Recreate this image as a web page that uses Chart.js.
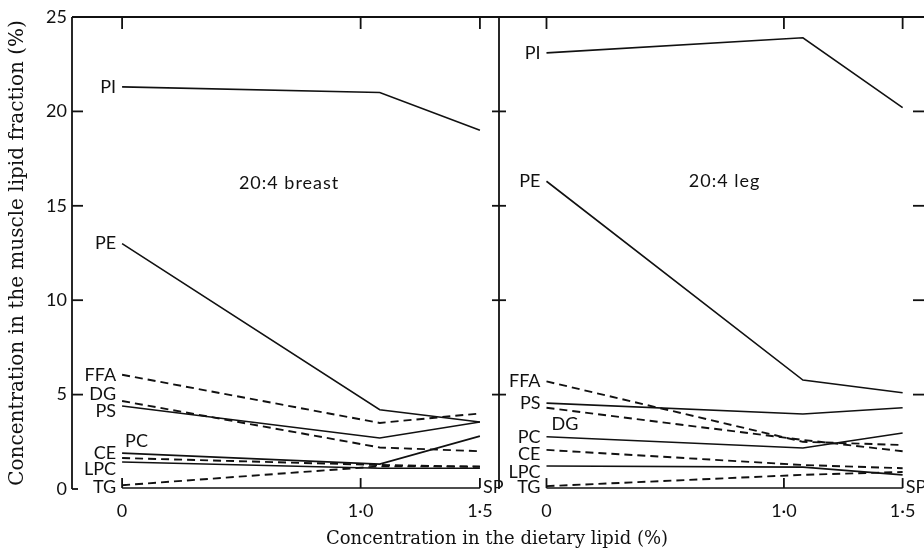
<!DOCTYPE html>
<html>
<head>
<meta charset="utf-8">
<script src="https://cdn.jsdelivr.net/npm/chart.js@4.4.1/dist/chart.umd.min.js"></script>
<style>
  body { margin: 0; background: #fff; width: 924px; height: 552px; overflow: hidden; position: relative; }
  canvas { position: absolute; left: 0; top: 0; }
  #xtitle { position: absolute; left: 0; width: 994px; top: 527px; text-align: center;
            font: 18px "DejaVu Serif", serif; color: #111; }
</style>
</head>
<body>
<canvas id="breastChart" width="924" height="552"></canvas>
<canvas id="legChart" width="924" height="552"></canvas>
<div id="xtitle">Concentration in the dietary lipid (%)</div>
<script>
// dietary lipid levels (%) where the samples were taken
const xDose = [0, 1.08, 1.5];
const xTickValues = [0, 1, 1.5];
const xTickLabels = ['0', '1·0', '1·5'];
const yTickValues = [0, 5, 10, 15, 20, 25];

const lipidNames = ['PI', 'PE', 'FFA', 'DG', 'PS', 'PC', 'CE', 'LPC', 'TG', 'SP'];
const dashedNames = ['FFA', 'DG', 'CE', 'TG'];

// 20:4 breast
const breastPI = [21.3, 21.0, 19.0];
const breastPE = [13.0, 4.2, 3.55];
const breastFFA = [6.05, 3.5, 4.0];
const breastDG = [4.66, 2.2, 2.0];
const breastPS = [4.4, 2.7, 3.55];
const breastPC = [1.9, 1.32, 2.8];
const breastCE = [1.64, 1.27, 1.17];
const breastLPC = [1.43, 1.1, 1.1];
const breastTG = [0.2, 1.2, 1.2];
const breastSP = [0.05, 0.05, 0.05];

// 20:4 leg
const legPI = [23.1, 23.9, 20.2];
const legPE = [16.3, 5.77, 5.1];
const legFFA = [5.7, 2.5, 2.33];
const legDG = [4.3, 2.6, 2.0];
const legPS = [4.55, 3.97, 4.3];
const legPC = [2.77, 2.17, 2.97];
const legCE = [2.07, 1.27, 1.1];
const legLPC = [1.22, 1.16, 0.75];
const legTG = [0.15, 0.75, 0.9];
const legSP = [0.05, 0.05, 0.05];

const breastValues = { PI: breastPI, PE: breastPE, FFA: breastFFA, DG: breastDG, PS: breastPS,
  PC: breastPC, CE: breastCE, LPC: breastLPC, TG: breastTG, SP: breastSP };
const legValues = { PI: legPI, PE: legPE, FFA: legFFA, DG: legDG, PS: legPS,
  PC: legPC, CE: legCE, LPC: legLPC, TG: legTG, SP: legSP };

// where each name sits next to its line (pixel nudges only)
const breastLabelPos = { PC: { dx: 3, dy: -12, align: 'left' }, DG: { dy: -7 }, PS: { dy: 5 },
  CE: { dy: -5 }, LPC: { dy: 7 }, TG: { dy: 2 }, SP: { end: true, dy: -1 } };
const legLabelPos = { DG: { dx: 5, dy: 16, align: 'left' }, CE: { dy: 4 }, LPC: { dy: 6 },
  TG: { dy: 1 }, SP: { end: true, dy: -1 } };

const ink = '#111';
const sansFamily = 'Lato, "DejaVu Sans", sans-serif';
const labelFont = '18px ' + sansFamily;

function buildDatasets(values) {
  return lipidNames.map(name => ({
    label: name,
    data: xDose.map((x, i) => ({ x: x, y: values[name][i] })),
    borderColor: ink,
    borderWidth: dashedNames.includes(name) ? 1.9 : 1.6,
    borderDash: dashedNames.includes(name) ? [8, 5] : [],
    pointRadius: 0,
    tension: 0,
    fill: false
  }));
}

function strokeLine(ctx, x1, y1, x2, y2) {
  ctx.beginPath();
  ctx.moveTo(x1, y1);
  ctx.lineTo(x2, y2);
  ctx.stroke();
}

// axes frame, inward ticks, line names and panel caption
const decorPlugin = {
  id: 'decor',
  afterDraw(chart, args, opts) {
    const ctx = chart.ctx;
    const { left, right, top, bottom } = chart.chartArea;
    const xs = chart.scales.x, ys = chart.scales.y;
    ctx.save();
    ctx.strokeStyle = ink;
    ctx.lineWidth = 1.8;
    ctx.setLineDash([]);

    strokeLine(ctx, left, top, left, bottom);
    strokeLine(ctx, left, top, right, top);

    // left panel: inward ticks; right panel: shared divider ticks + right edge ticks
    yTickValues.forEach(v => {
      if (v === 25) return;
      const py = ys.getPixelForValue(v);
      if (opts.side === 'left') {
        strokeLine(ctx, left, py, left + (v === 0 ? 6 : 11), py);
      } else if (v > 0) {
        strokeLine(ctx, left - 7, py, left + 7, py);
        strokeLine(ctx, right - 11, py, right, py);
      }
    });

    xTickValues.forEach(v => {
      const px = xs.getPixelForValue(v);
      strokeLine(ctx, px, top, px, top + 12);
      strokeLine(ctx, px, ys.getPixelForValue(0.05), px, ys.getPixelForValue(0.05) - 10);
    });

    // names of the lipid classes
    ctx.fillStyle = ink;
    ctx.font = labelFont;
    ctx.textBaseline = 'middle';
    chart.data.datasets.forEach((ds, i) => {
      const meta = chart.getDatasetMeta(i);
      const pos = opts.labels[ds.label] || {};
      const pt = pos.end ? meta.data[meta.data.length - 1] : meta.data[0];
      let x, align;
      if (pos.end) { x = pt.x + 3; align = 'left'; }
      else if (pos.align === 'left') { x = pt.x + (pos.dx || 0); align = 'left'; }
      else { x = pt.x - 6; align = 'right'; }
      ctx.textAlign = align;
      ctx.fillText(ds.label, x, pt.y + (pos.dy || 0));
    });

    ctx.textAlign = 'center';
    ctx.letterSpacing = '1px';
    ctx.fillText(opts.caption, xs.getPixelForValue(opts.captionAt[0]), ys.getPixelForValue(opts.captionAt[1]));
    ctx.restore();
  }
};

function makeOptions(side, xMin, xMax, padding, caption, captionAt, labels) {
  return {
    responsive: false,
    animation: false,
    events: [],
    layout: { padding: padding },
    plugins: {
      legend: { display: false },
      tooltip: { enabled: false },
      decor: { side: side, caption: caption, captionAt: captionAt, labels: labels }
    },
    scales: {
      x: {
        type: 'linear',
        min: xMin,
        max: xMax,
        border: { display: false },
        grid: { display: false },
        afterBuildTicks: scale => { scale.ticks = xTickValues.map(v => ({ value: v })); },
        afterFit: scale => { scale.height = 63; },
        ticks: {
          color: ink,
          padding: 3,
          font: { family: sansFamily, size: 18 },
          callback: v => xTickLabels[xTickValues.indexOf(v)]
        }
      },
      y: {
        display: side === 'left',
        min: 0,
        max: 25,
        border: { display: false },
        grid: { display: false, drawTicks: false },
        afterBuildTicks: scale => { scale.ticks = yTickValues.map(v => ({ value: v })); },
        afterFit: scale => { if (side === 'left') scale.width = 72; },
        ticks: {
          color: ink,
          padding: 5,
          font: { family: sansFamily, size: 18 }
        },
        title: {
          display: true,
          text: 'Concentration in the muscle lipid fraction (%)',
          color: ink,
          padding: { top: 6, bottom: 2 },
          font: { family: '"DejaVu Serif", serif', size: 20 }
        }
      }
    }
  };
}

new Chart(document.getElementById('breastChart'), {
  type: 'line',
  data: { datasets: buildDatasets(breastValues) },
  options: makeOptions('left', -0.21, 1.58, { left: 0, right: 425, top: 17, bottom: 0 },
    '20:4 breast', [0.7, 16.2], breastLabelPos),
  plugins: [decorPlugin]
});

new Chart(document.getElementById('legChart'), {
  type: 'line',
  data: { datasets: buildDatasets(legValues) },
  options: makeOptions('right', -0.2, 1.59, { left: 499, right: 0, top: 17, bottom: 0 },
    '20:4 leg', [0.75, 16.3], legLabelPos),
  plugins: [decorPlugin]
});
</script>
</body>
</html>
